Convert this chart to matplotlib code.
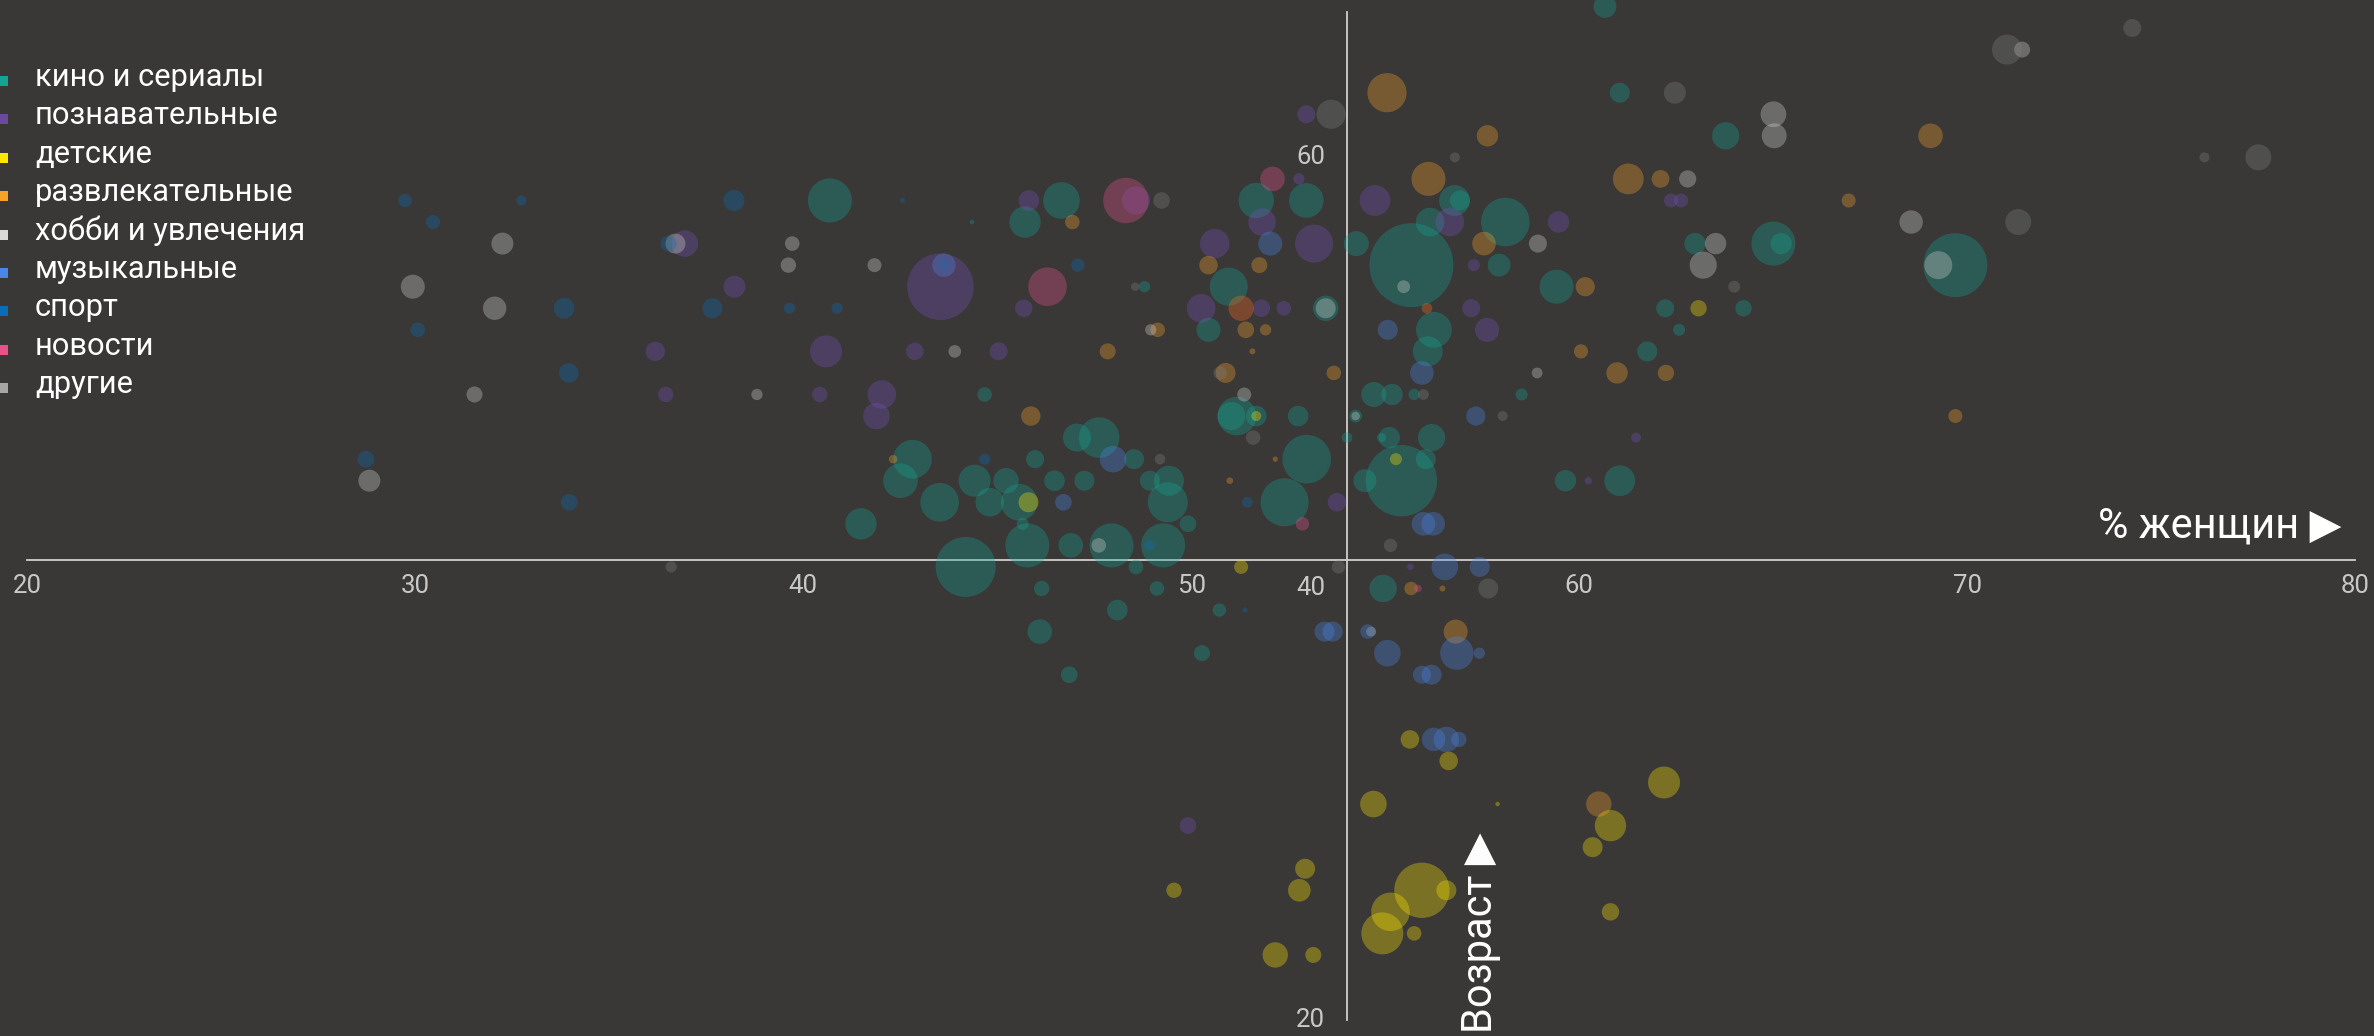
import matplotlib
matplotlib.use('Agg')
import matplotlib.pyplot as plt
from matplotlib.patches import Rectangle

# --- data: % women, average age, audience (relative units) per channel ---
kino_pct = [40.69, 44.35, 46.66, 45.72, 51.68, 52.97, 50.97, 50.45, 53.47, 51.18,
            51.04, 51.68, 52.76, 52.98, 52.41, 48.8, 44.68, 47.06, 47.63, 48.53,
            45.98, 42.82, 42.51, 44.42, 45.23, 46.48, 47.25, 48.94, 49.43, 43.52,
            44.81, 45.57, 49.4, 41.49, 45.66, 49.92, 44.19, 45.78, 46.9, 47.95,
            49.28, 48.58, 46.15, 49.12, 54.95, 50.73, 48.1, 46.1, 50.28, 46.86,
            54.02, 54.48, 60.67, 61.05, 63.78, 56.79, 56.93, 54.26, 56.16, 58.1,
            55.68, 57.94, 59.42, 62.99, 65.01, 65.21, 62.22, 64.24, 56.26, 62.58,
            56.1, 61.76, 54.71, 55.18, 55.75, 58.52, 54.24, 55.11, 54.91, 56.2,
            55.42, 56.05, 59.65, 61.05, 69.7]
kino_age = [58, 57, 58, 57, 58, 58, 54, 52, 53, 48, 48, 48, 48, 46, 44, 54, 49, 47, 47, 46,
            46, 46, 45, 45, 45, 45, 45, 45, 45, 44, 44, 44, 44, 43, 43, 43, 41, 42, 42, 42,
            42, 41, 40, 40, 40, 39, 39, 38, 37, 36, 47, 45, 67, 63, 61, 58, 58, 56, 57, 57,
            55, 55, 54, 56, 56, 56, 53, 53, 52, 52, 51, 51, 49, 49, 49, 49, 48, 47, 47, 47,
            45, 46, 45, 45, 55]
kino_reach = [484, 5, 335, 246, 313, 299, 361, 144, 161, 372, 196, 106, 106, 590, 576, 32,
              53, 196, 412, 100, 81, 372, 299, 256, 161, 106, 100, 100, 225, 372, 204, 335,
              400, 246, 36, 69, 900, 484, 151, 484, 484, 53, 59, 53, 188, 45, 106, 151, 64,
              69, 28, 132, 130, 100, 185, 237, 100, 156, 204, 590, 1764, 130, 289, 114, 484,
              114, 81, 67, 320, 36, 225, 100, 156, 114, 32, 36, 41, 114, 21, 185, 1274, 100,
              114, 237, 1024]

pozn_pct = [36.95, 38.23, 36.19, 40.59, 36.46, 40.43, 45.82, 48.58, 52.78, 51.83, 53.17,
            50.61, 50.26, 51.81, 52.39, 53.76, 43.54, 45.69, 42.88, 45.04, 42.03, 41.89,
            52.97, 62.37, 62.63, 54.74, 56.67, 59.47, 57.29, 57.22, 57.63, 61.47, 60.24,
            55.65, 49.92]
pozn_age = [56, 54, 51, 51, 49, 49, 58, 58, 59, 57, 56, 56, 53, 53, 53, 44, 54, 53, 51, 51,
            49, 48, 62, 58, 58, 58, 57, 57, 55, 53, 52, 47, 45, 41, 29]
pozn_reach = [177, 121, 94, 256, 59, 59, 106, 196, 32, 188, 361, 216, 204, 76, 53, 86, 1109,
              76, 76, 81, 204, 177, 81, 49, 49, 237, 204, 114, 36, 81, 146, 25, 13, 11, 69]

kids_pct = [51.68, 45.81, 51.29, 63.08, 55.28, 55.64, 56.64, 54.7, 57.9, 62.19, 60.81, 60.35,
            60.81, 52.94, 52.79, 49.56, 55.95, 56.58, 55.14, 54.93, 55.75, 52.17, 53.15]
kids_age = [48, 44, 41, 53, 46, 33, 32, 30, 30, 31, 29, 28, 25, 27, 26, 26, 26, 26, 25, 24,
            24, 23, 23]
kids_reach = [25, 100, 49, 67, 36, 86, 86, 177, 5, 256, 246, 100, 76, 100, 128, 59, 767, 100,
              372, 441, 53, 161, 64]

fun_pct = [46.94, 50.45, 51.76, 51.41, 51.92, 51.58, 50.89, 53.68, 52.17, 51.0, 42.32, 45.87,
           47.85, 49.14, 55.05, 57.64, 56.12, 61.27, 62.1, 66.95, 57.55, 60.16, 60.05, 60.98,
           62.24, 69.06, 69.7, 55.67, 56.48, 56.82, 60.51]
fun_age = [57, 55, 55, 52, 52, 51, 50, 50, 46, 45, 46, 48, 51, 52, 63, 61, 59, 59, 59, 58, 56,
           54, 51, 50, 50, 61, 48, 40, 40, 38, 30]
fun_reach = [53, 86, 64, 69, 32, 9, 100, 53, 7, 11, 18, 94, 64, 53, 384, 114, 289, 237, 79, 49,
             139, 92, 50, 114, 67, 151, 49, 45, 9, 144, 161]

hobby_pct = [32.25, 36.71, 39.72, 39.62, 29.94, 32.05, 31.53, 38.81, 28.82, 41.84, 43.91,
             48.96, 53.47, 51.37, 47.62, 54.64, 65.01, 65.03, 62.8, 58.94, 55.48, 63.52,
             63.2, 58.92, 54.24, 71.42, 68.56, 69.26]
hobby_age = [56, 56, 56, 55, 54, 53, 49, 49, 45, 55, 51, 52, 53, 49, 42, 38, 62, 61, 59, 56,
             54, 56, 55, 50, 48, 65, 57, 55]
hobby_reach = [121, 100, 53, 59, 144, 137, 64, 32, 121, 49, 40, 32, 100, 49, 53, 25, 166, 156,
               74, 81, 41, 114, 185, 29, 18, 64, 137, 196]

music_pct = [43.63, 52.04, 47.99, 46.71, 53.44, 53.65, 54.55, 55.06, 55.07, 55.95, 57.34,
             55.99, 56.24, 56.54, 57.44, 56.85, 57.43, 55.95, 56.2, 56.25, 56.58, 56.9]
music_age = [55, 56, 46, 44, 38, 38, 38, 37, 52, 50, 48, 43, 43, 41, 41, 37, 37, 36, 36, 33,
             33, 33]
music_reach = [137, 144, 177, 69, 100, 100, 53, 177, 100, 139, 92, 139, 139, 177, 100, 279,
               32, 81, 100, 137, 161, 59]

sport_pct = [29.74, 32.74, 30.46, 36.53, 38.22, 33.84, 37.66, 39.65, 40.88, 30.07, 33.96,
             28.73, 33.97, 42.56, 43.63, 47.08, 44.68, 51.45, 48.93, 51.39]
sport_age = [58, 58, 57, 56, 58, 53, 53, 53, 53, 52, 50, 46, 44, 58, 55, 55, 46, 44, 42, 39]
sport_reach = [45, 25, 49, 64, 110, 106, 100, 32, 32, 53, 94, 69, 69, 7, 16, 45, 32, 28, 28, 7]

news_pct = [48.32, 52.1, 46.3, 52.87, 55.85]
news_age = [58, 59, 54, 43, 40]
news_reach = [515, 151, 372, 45, 14]

other_pct = [36.6, 49.24, 50.75, 51.6, 53.8, 48.56, 49.2, 55.14, 62.47, 53.61, 56.8, 64.0,
             55.99, 58.03, 57.66, 71.03, 74.26, 76.12, 77.51, 71.32]
other_age = [41, 58, 50, 47, 41, 54, 46, 42, 63, 62, 60, 54, 49, 48, 40, 65, 66, 60, 60, 57]
other_reach = [32, 69, 45, 53, 45, 18, 28, 45, 121, 213, 25, 36, 29, 25, 100, 225, 81, 25,
               169, 169]

# two reddish bubbles with no legend entry
red_pct = [51.29, 56.08]
red_age = [53, 53]
red_reach = [161, 29]

mean_pct = 54.02   # vertical axis
mean_age = 41.32   # horizontal axis

labels = ['кино и сериалы', 'познавательные', 'детские', 'развлекательные',
          'хобби и увлечения', 'музыкальные', 'спорт', 'новости', 'другие']
legend_colors = ['#12a594', '#6a4a9e', '#ffe600', '#f7a229', '#d9d9d9',
                 '#4a86e8', '#0b6db7', '#e8518a', '#a6a6a6']
bubble_colors = ['#12a594', '#7550b8', '#ffe600', '#f7a229', '#d4d4d4',
                 '#4a86e8', '#0b6db7', '#e8518a', '#7e7e7e']

BG = '#393837'
W, H = 2374, 1036
plt.rcParams['font.family'] = ['Roboto', 'DejaVu Sans']

fig = plt.figure(figsize=(W / 100, H / 100), dpi=100, facecolor=BG)
ax = fig.add_axes([0, 0, 1, 1])
ax.set_facecolor(BG)
ax.axis('off')
ax.set_xlim(19.30, 80.49)
ax.set_ylim(19.24, 67.30)

# axes cross at the mean values
ax.plot([20, 80], [mean_age, mean_age], color='#cfcfcf', lw=1.3, zorder=1)
ax.plot([mean_pct, mean_pct], [20, 66.75], color='#cfcfcf', lw=1.3, zorder=1)

series = [
    (kino_pct, kino_age, kino_reach),
    (pozn_pct, pozn_age, pozn_reach),
    (kids_pct, kids_age, kids_reach),
    (fun_pct, fun_age, fun_reach),
    (hobby_pct, hobby_age, hobby_reach),
    (music_pct, music_age, music_reach),
    (sport_pct, sport_age, sport_reach),
    (news_pct, news_age, news_reach),
    (other_pct, other_age, other_reach),
]
SIZE = 2.07  # points^2 per audience unit
for (xs, ys, rs), col in zip(series, bubble_colors):
    ax.scatter(xs, ys, s=[r * SIZE for r in rs], color=col, alpha=0.33,
               linewidths=0, zorder=2)
ax.scatter(red_pct, red_age, s=[r * SIZE for r in red_reach], color='#ff6a1c',
           alpha=0.33, linewidths=0, zorder=2)

# tick labels
tick_col = '#c8c8c8'
for v in range(20, 81, 10):
    ax.text(v, mean_age - 1.2, str(v), color=tick_col, fontsize=18.5,
            ha='center', va='center', zorder=3)
for v in (20, 40, 60):
    ax.text(mean_pct - 0.57, v, str(v), color=tick_col, fontsize=18.5,
            ha='right', va='center', zorder=3)

# axis titles
fig.text(2342 / W, 1 - 537 / H, '% женщин ▶', color='white', fontsize=30,
         ha='right', va='baseline')
fig.text(1492 / W, 1 - 1033 / H, 'Возраст ▶', color='white', fontsize=30,
         rotation=90, rotation_mode='anchor', ha='left', va='baseline')

# legend
for i, (lab, col) in enumerate(zip(labels, legend_colors)):
    base = 86 + 38.4 * i
    y = 1 - base / H
    fig.add_artist(Rectangle((-2 / W, y), 10 / W, 10 / H, transform=fig.transFigure,
                             color=col, lw=0))
    fig.text(35 / W, y, lab, color='white', fontsize=22.2, ha='left', va='baseline')

fig.savefig('out.png', dpi=100, facecolor=BG)
